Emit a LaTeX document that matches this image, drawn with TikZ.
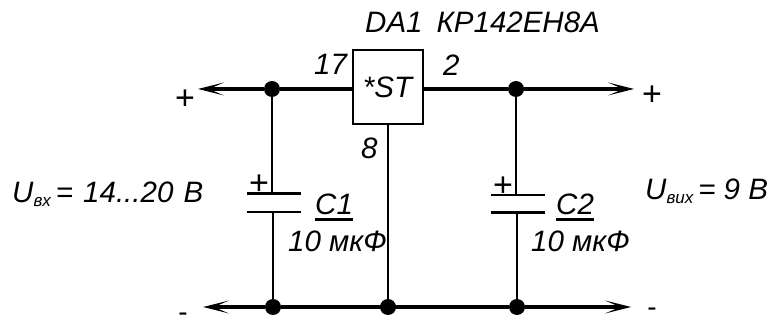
\documentclass[tikz,border=0pt]{standalone}
\usepackage{fontspec}
\setmainfont{Liberation Sans}
\usetikzlibrary{arrows.meta}

\begin{document}
\begin{tikzpicture}[x=1pt,y=-1pt,
	every node/.style={font=\fontsize{29.5}{31}\selectfont\itshape},
	label/.style={inner sep=0pt,anchor=base west},
	sign/.style={inner sep=0pt,font=\fontsize{34}{34}\selectfont},
	dash sign/.style={inner sep=0pt,font=\fontsize{28}{30}\selectfont},
	dot/.style={circle,fill=black,inner sep=0pt,minimum size=16pt},
	plate/.style={fill=black,inner sep=0pt,minimum width=54pt,minimum height=2.2pt},
	wire/.style={line width=2pt},
	rail/.style={line width=3.2pt},
	heavy rail/.style={line width=3.8pt},
	bar/.style={line width=2.4pt},
	tip/.style={-{Stealth[length=26pt,width=13pt,inset=15pt,line width=0pt]}}]
	\useasboundingbox (0,0) rectangle (771,320);
	% regulator
	\node (st) at (387.5,87.5) [draw,line width=2pt,minimum width=70pt,minimum height=74pt,inner sep=0pt] {*ST};
	% rails
	\coordinate (inplus) at (198,89);
	\coordinate (outplus) at (634,89);
	\coordinate (inminus) at (203,307);
	\coordinate (outminus) at (631,307);
	\node (dotin) at (272,89) [dot] {};
	\node (dotout) at (516,89) [dot] {};
	\node (dotc1) at (273,307) [dot] {};
	\node (dotgnd) at (388,307) [dot] {};
	\node (dotc2) at (517,307) [dot] {};
	\draw[heavy rail] (st.west |- dotin) -- (dotin);
	\draw[rail,tip] (dotin) -- (inplus);
	\draw[heavy rail] (st.east |- dotout) -- (dotout);
	\draw[rail,tip] (dotout) -- (outplus);
	\draw[rail,tip] (dotc1) -- (inminus);
	\draw[rail,tip] (dotc2) -- (outminus);
	\draw[heavy rail] (dotc1) -- (dotc2);
	\draw[wire] (st.south -| dotgnd) -- (dotgnd);
	% capacitors
	\node (c1top) at (274,193.5) [plate] {};
	\node (c1bot) at (274,212) [plate] {};
	\node (c2top) at (518,195) [plate] {};
	\node (c2bot) at (518,212.5) [plate] {};
	\draw[wire] (dotin) -- (dotin |- c1top);
	\draw[wire] (dotc1 |- c1bot) -- (dotc1);
	\draw[wire] (dotout |- c2top) -- (dotout);
	\draw[wire] (dotc2 |- c2bot) -- (dotc2);
	% signs
	\node (plusin) at (185,100) [sign] {+};
	\node (plusout) at (652,96) [sign] {+};
	\node (minusin) at (183,317) [dash sign] {-};
	\node (minusout) at (652,312) [dash sign] {-};
	\node (plusc1) at (259,185) [sign] {+};
	\node (plusc2) at (503,187) [sign] {+};
	% labels
	\node (da) at (365,33) [label] {DA1\hspace{14pt}КР142ЕН8А};
	\node (pin17) at (314,75) [label] {17};
	\node (pin2) at (443,76) [label] {2};
	\node (pin8) at (361,159) [label] {8};
	\node (nc1) at (315,215) [label] {C1};
	\node (vc1) at (288,252) [label] {10 мкФ};
	\node (nc2) at (556,215) [label] {C2};
	\node (vc2) at (531,252) [label] {10 мкФ};
	\node (uin) at (12,203) [label] {U\raisebox{-4pt}{\fontsize{17}{17}\selectfont вх}\,=\hspace{2pt} 14...20\hspace{2pt} В};
	\node (uout) at (645,200) [label] {U\raisebox{-4pt}{\fontsize{17}{17}\selectfont вих}\,= 9 В};
	% underlines
	\draw[bar] ([yshift=-4pt]nc1.south west) -- ([yshift=-4pt]nc1.south east);
	\draw[bar] ([yshift=-4pt]nc2.south west) -- ([yshift=-4pt]nc2.south east);
\end{tikzpicture}
\end{document}
